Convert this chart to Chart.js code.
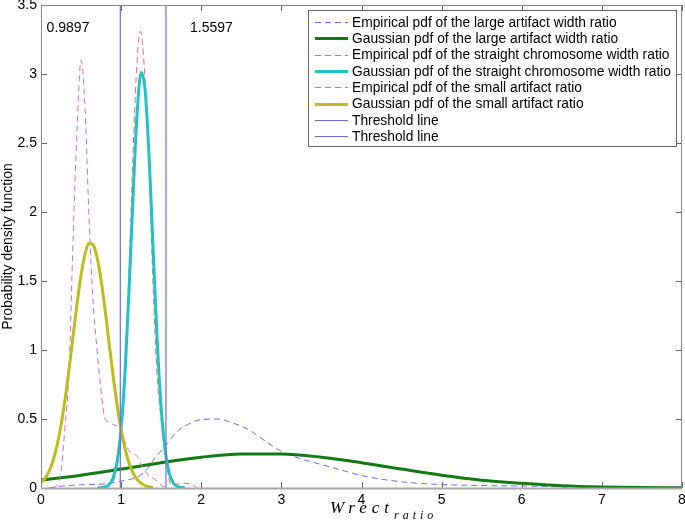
<!DOCTYPE html>
<html>
<head>
<meta charset="utf-8">
<script src="https://cdn.jsdelivr.net/npm/chart.js@4/dist/chart.umd.min.js"></script>
<style>
  html, body { margin: 0; padding: 0; background: #fff; }
</style>
</head>
<body>
<canvas id="pdfChart" width="685" height="521"></canvas>
<script>
// axis ticks
const xTicks = [0, 1, 2, 3, 4, 5, 6, 7, 8];
const yTicks = [0, 0.5, 1, 1.5, 2, 2.5, 3, 3.5];

// threshold positions
const thresholds = [0.9897, 1.5597];

// large artifact - empirical
const largeEmpX = [0.1, 0.2, 0.4, 0.6, 0.8, 1.0, 1.2, 1.3, 1.4, 1.5, 1.6, 1.7, 1.8, 1.9, 2.0, 2.2, 2.4, 2.6, 2.8, 3.0, 3.25, 3.5, 3.75, 4.0, 4.5, 5.0, 5.5, 6.0, 6.5, 6.6];
const largeEmpY = [0, 0.01, 0.02, 0.025, 0.03, 0.05, 0.08, 0.12, 0.2, 0.27, 0.34, 0.41, 0.45, 0.48, 0.495, 0.5, 0.47, 0.42, 0.34, 0.265, 0.21, 0.17, 0.13, 0.09, 0.045, 0.025, 0.018, 0.014, 0.008, 0];

// large artifact - gaussian
const largeGaussX = [0, 0.5, 1, 1.5, 2, 2.5, 3, 3.5, 4, 4.5, 5, 5.5, 6, 6.5, 7, 7.5, 8];
const largeGaussY = [0.057, 0.093, 0.137, 0.183, 0.223, 0.246, 0.246, 0.223, 0.183, 0.137, 0.093, 0.057, 0.034, 0.016, 0.007, 0.003, 0.001];

// straight chromosome - empirical
const straightEmpX = [0.8, 0.85, 0.9, 0.95, 1.0, 1.05, 1.1, 1.15, 1.2, 1.24, 1.3, 1.35, 1.4, 1.45, 1.5, 1.55, 1.6, 1.65, 1.7, 1.75, 1.8, 1.85, 1.9, 1.95];
const straightEmpY = [0, 0.02, 0.05, 0.15, 0.4, 0.9, 1.6, 2.45, 3.1, 3.31, 2.95, 2.3, 1.45, 0.8, 0.5, 0.28, 0.06, 0.02, 0.03, 0.03, 0.035, 0.03, 0.02, 0];

// straight chromosome - gaussian
const straightGaussX = [0.7, 0.8, 0.85, 0.9, 0.95, 1.0, 1.05, 1.1, 1.15, 1.2, 1.25, 1.3, 1.35, 1.4, 1.45, 1.5, 1.55, 1.6, 1.65, 1.7, 1.8];
const straightGaussY = [0, 0.007, 0.024, 0.073, 0.19, 0.43, 0.85, 1.45, 2.13, 2.72, 3.01, 2.88, 2.39, 1.72, 1.07, 0.58, 0.27, 0.11, 0.038, 0.012, 0.001];

// small artifact - empirical
const smallEmpX = [0.15, 0.2, 0.25, 0.3, 0.35, 0.4, 0.45, 0.5, 0.55, 0.6, 0.65, 0.7, 0.75, 0.8, 0.85, 0.9, 0.95, 1.0, 1.05, 1.1, 1.15, 1.2, 1.25, 1.3, 1.35, 1.4, 1.45, 1.5, 1.55, 1.6];
const smallEmpY = [0, 0.02, 0.12, 0.45, 0.85, 1.8, 2.6, 3.1, 2.75, 1.95, 1.35, 1.0, 0.7, 0.5, 0.48, 0.46, 0.45, 0.42, 0.33, 0.27, 0.25, 0.23, 0.17, 0.12, 0.09, 0.07, 0.05, 0.02, 0.005, 0];

// small artifact - gaussian
const smallGaussX = [0, 0.05, 0.1, 0.15, 0.2, 0.25, 0.3, 0.35, 0.4, 0.45, 0.5, 0.55, 0.6, 0.65, 0.7, 0.75, 0.8, 0.85, 0.9, 0.95, 1.0, 1.05, 1.1, 1.15, 1.2, 1.25, 1.3, 1.35, 1.4];
const smallGaussY = [0.039, 0.07, 0.12, 0.197, 0.307, 0.455, 0.642, 0.861, 1.1, 1.335, 1.543, 1.695, 1.773, 1.764, 1.67, 1.505, 1.289, 1.05, 0.815, 0.601, 0.422, 0.282, 0.179, 0.108, 0.063, 0.034, 0.018, 0.009, 0.004];

const labels = [
  'Empirical pdf of the large artifact width ratio',
  'Gaussian pdf of the large artifact width ratio',
  'Empirical pdf of the straight chromosome width ratio',
  'Gaussian pdf of the straight chromosome width ratio',
  'Empirical pdf of the small artifact ratio',
  'Gaussian pdf of the small artifact ratio',
  'Threshold line',
  'Threshold line'
];

const FONT = "'Liberation Sans', Arial, Helvetica, sans-serif";
const SERIF = "'Liberation Serif', 'Times New Roman', serif";

function pts(xs, ys) {
  return xs.map((x, i) => ({ x: x, y: ys[i] }));
}

function line(label, xs, ys, color, width, dash) {
  return {
    label: label,
    data: pts(xs, ys),
    borderColor: color,
    backgroundColor: color,
    borderWidth: width,
    borderDash: dash,
    pointRadius: 0,
    fill: false,
    cubicInterpolationMode: 'monotone'
  };
}

const datasets = [
  line(labels[0], largeEmpX, largeEmpY, '#6a6af2', 1, [6, 4]),
  line(labels[1], largeGaussX, largeGaussY, '#127a12', 3, []),
  line(labels[2], straightEmpX, straightEmpY, '#ee6666', 1, [6, 4]),
  line(labels[3], straightGaussX, straightGaussY, '#22c2c4', 3, []),
  line(labels[4], smallEmpX, smallEmpY, '#d068d8', 1, [6, 4]),
  line(labels[5], smallGaussX, smallGaussY, '#bcbc1c', 3, []),
];
thresholds.forEach((t, i) => {
  const d = line(labels[6 + i], [t, t], [0, 3.5], '#6a6ae0', 1.2, []);
  d.cubicInterpolationMode = 'default';
  d.tension = 0;
  datasets.push(d);
});
// later datasets on top, like the original
datasets.forEach((d, i) => { d.order = datasets.length - i; });

// frame, inward ticks, annotations, legend and x title
const decorations = {
  id: 'decorations',
  beforeDatasetsDraw(chart) {
    const ctx = chart.ctx;
    const a = chart.chartArea;
    const xs = chart.scales.x, ys = chart.scales.y;
    ctx.save();
    // inward ticks on all four sides
    ctx.strokeStyle = '#666';
    ctx.lineWidth = 1;
    ctx.beginPath();
    xTicks.forEach(v => {
      const px = Math.round(xs.getPixelForValue(v)) + 0.5;
      ctx.moveTo(px, a.bottom); ctx.lineTo(px, a.bottom - 6);
      ctx.moveTo(px, a.top); ctx.lineTo(px, a.top + 6);
    });
    yTicks.forEach(v => {
      const py = Math.round(ys.getPixelForValue(v)) + 0.5;
      ctx.moveTo(a.left, py); ctx.lineTo(a.left + 6, py);
      ctx.moveTo(a.right, py); ctx.lineTo(a.right - 6, py);
    });
    ctx.stroke();
    ctx.restore();
  },
  afterDatasetsDraw(chart) {
    const ctx = chart.ctx;
    const a = chart.chartArea;
    const xs = chart.scales.x, ys = chart.scales.y;
    ctx.save();

    // frame
    ctx.strokeStyle = '#888';
    ctx.lineWidth = 1;
    ctx.strokeRect(a.left + 0.5, a.top + 0.5, a.right - a.left - 1, a.bottom - a.top);
    ctx.strokeStyle = '#a8a8a8';
    ctx.lineWidth = 2;
    ctx.beginPath();
    ctx.moveTo(a.left, a.bottom + 0.5); ctx.lineTo(a.right, a.bottom + 0.5);
    ctx.stroke();

    // threshold annotations
    ctx.fillStyle = '#000';
    ctx.font = '14px ' + FONT;
    ctx.textBaseline = 'middle';
    ctx.textAlign = 'left';
    ctx.fillText(String(thresholds[0]), xs.getPixelForValue(0.07), ys.getPixelForValue(3.33));
    ctx.fillText(String(thresholds[1]), xs.getPixelForValue(1.86), ys.getPixelForValue(3.33));

    // legend box
    const lx = 308, ly = 10, lw = 368, lh = 136;
    ctx.fillStyle = '#fff';
    ctx.fillRect(lx, ly, lw, lh);
    ctx.strokeStyle = '#666';
    ctx.lineWidth = 1;
    ctx.strokeRect(lx + 0.5, ly + 0.5, lw, lh);
    ctx.font = '13.8px ' + FONT;
    chart.data.datasets.forEach((d, i) => {
      const yy = 22 + i * 16.3;
      ctx.strokeStyle = d.borderColor;
      ctx.lineWidth = Math.round(d.borderWidth);
      ctx.setLineDash(d.borderDash || []);
      ctx.beginPath();
      ctx.moveTo(315, Math.round(yy) + 0.5);
      ctx.lineTo(348, Math.round(yy) + 0.5);
      ctx.stroke();
      ctx.setLineDash([]);
      ctx.fillStyle = '#000';
      ctx.fillText(d.label, 352, yy + 1);
    });

    // x axis title: Wrect with subscript "ratio"
    ctx.fillStyle = '#000';
    ctx.textBaseline = 'alphabetic';
    ctx.font = 'italic 17px ' + SERIF;
    ctx.letterSpacing = '5px';
    const main = 'Wrect';
    const w1 = ctx.measureText(main).width;
    const x0 = 330;
    ctx.fillText(main, x0, 513);
    ctx.font = 'italic 12px ' + SERIF;
    ctx.letterSpacing = '4px';
    ctx.fillText('ratio', x0 + w1, 519);
    ctx.letterSpacing = '0px';

    ctx.restore();
  }
};

new Chart(document.getElementById('pdfChart').getContext('2d'), {
  type: 'line',
  data: { datasets: datasets },
  options: {
    responsive: false,
    animation: false,
    devicePixelRatio: 1,
    layout: { padding: { top: 5, right: 3, left: 0, bottom: 0 } },
    plugins: {
      legend: { display: false },
      tooltip: { enabled: false }
    },
    scales: {
      x: {
        type: 'linear',
        min: 0,
        max: 8,
        afterFit: s => { s.height = 33; s.paddingLeft = 0; s.paddingRight = 0; },
        afterBuildTicks: s => { s.ticks = xTicks.map(v => ({ value: v })); },
        grid: { display: false, drawTicks: false },
        border: { display: false },
        ticks: { color: '#000', font: { family: FONT, size: 14 }, padding: 4, maxRotation: 0, callback: v => String(v) }
      },
      y: {
        type: 'linear',
        min: 0,
        max: 3.5,
        afterFit: s => { s.width = 41; s.paddingTop = 0; s.paddingBottom = 0; },
        afterBuildTicks: s => { s.ticks = yTicks.map(v => ({ value: v })); },
        grid: { display: false, drawTicks: false },
        border: { display: false },
        ticks: { color: '#000', font: { family: FONT, size: 14 }, padding: 4, callback: v => String(v) },
        title: {
          display: true,
          text: 'Probability density function',
          color: '#000',
          font: { family: FONT, size: 14 },
          padding: { top: 0, bottom: 0 }
        }
      }
    }
  },
  plugins: [decorations]
});
</script>
</body>
</html>
